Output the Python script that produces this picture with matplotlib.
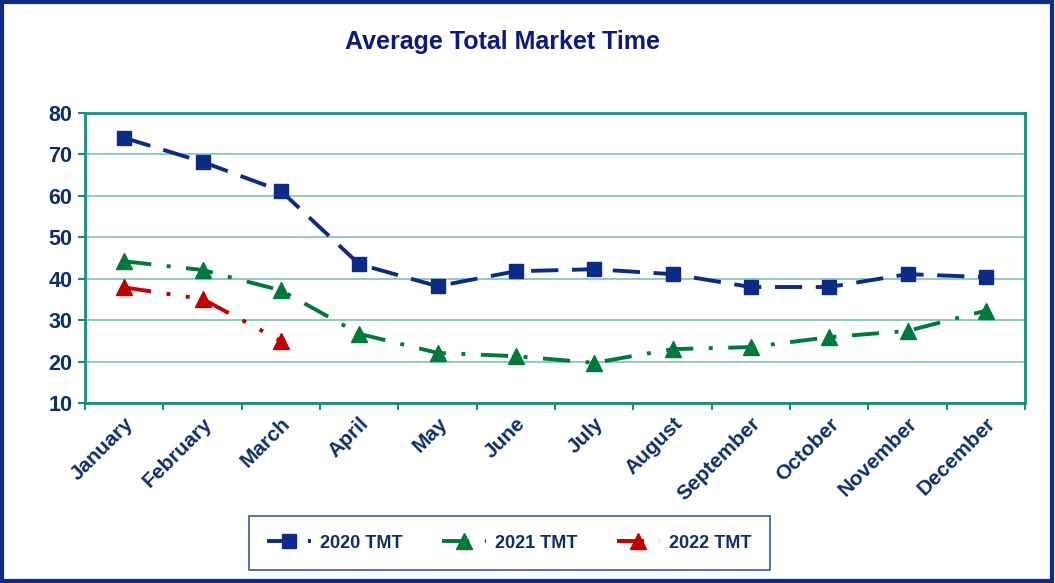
"""Average Total Market Time line chart."""

import matplotlib
matplotlib.use("Agg")
import matplotlib.pyplot as plt
from matplotlib.patches import Rectangle

# ---------------------------------------------------------------------------
# Data
# ---------------------------------------------------------------------------

MONTHS = ["January", "February", "March", "April", "May", "June", "July",
          "August", "September", "October", "November", "December"]

TMT_2020 = [74, 68.2, 61.2, 43.5, 38.2, 41.8, 42.3, 41.1, 38.0, 38.0, 41.1, 40.4]
TMT_2021 = [44.2, 42.1, 37.2, 26.7, 22.1, 21.3, 19.7, 23.0, 23.5, 25.9, 27.4, 32.3]
TMT_2022 = [37.9, 35.1, 25.0]

Y_TICKS = [10, 20, 30, 40, 50, 60, 70, 80]

NAVY   = "#0c2b87"
GREEN  = "#007a3a"
RED    = "#c00000"
TEXT   = "#0b2f6b"
TEAL   = "#1a8c7c"
GRID   = "#7fc3b3"

plt.rcParams["font.family"] = ["Liberation Sans", "DejaVu Sans"]

# ---------------------------------------------------------------------------
# Plot
# ---------------------------------------------------------------------------

fig = plt.figure(figsize=(10.55, 5.83), dpi=100)
fig.patch.set_facecolor("white")
ax = fig.add_axes([0.0806, 0.3087, 0.891, 0.4975])

x = list(range(len(MONTHS)))

ax.plot(x, TMT_2020, color=NAVY, linewidth=2.8, dashes=(7, 3.5),
        marker="s", markersize=9.5, label="2020 TMT", zorder=4)
ax.plot(x, TMT_2021, color=GREEN, linewidth=2.8, dashes=(7, 4, 1, 4),
        marker="^", markersize=12, label="2021 TMT", zorder=4)
ax.plot(x[:len(TMT_2022)], TMT_2022, color=RED, linewidth=2.8,
        dashes=(7, 4, 1, 4, 1, 4),
        marker="^", markersize=12, label="2022 TMT", zorder=5)

ax.set_xlim(-0.5, len(MONTHS) - 0.5)
ax.set_ylim(10, 80)
ax.set_yticks(Y_TICKS)
ax.set_yticklabels([str(v) for v in Y_TICKS], fontsize=15.5, fontweight="bold",
                   color=TEXT)

ax.set_xticks(x)
ax.set_xticklabels(MONTHS, rotation=45, ha="right", rotation_mode="anchor",
                   fontsize=15, fontweight="bold", color=TEXT)
ax.tick_params(axis="x", length=0, pad=8)
ax.set_xticks([i - 0.5 for i in range(len(MONTHS) + 1)], minor=True)
ax.tick_params(axis="x", which="minor", length=5, width=1.5, color=TEAL)
ax.tick_params(axis="y", length=5, width=1.5, color=TEAL, pad=4)

ax.grid(axis="y", color=GRID, linewidth=1.2)
ax.set_axisbelow(True)
for spine in ax.spines.values():
    spine.set_edgecolor(TEAL)
    spine.set_linewidth(2)

fig.text(0.476, 0.928, "Average Total Market Time", ha="center", va="center",
         fontsize=18, fontweight="bold", color="#0a1a80")

leg = fig.legend(loc="center", bbox_to_anchor=(0.483, 0.0686), ncol=3,
                 frameon=True, fancybox=False, handlelength=2.4,
                 columnspacing=2.2, borderpad=1.0, borderaxespad=0,
                 handletextpad=0.5, prop={"size": 13, "weight": "bold"})
leg.get_frame().set_edgecolor(NAVY)
leg.get_frame().set_linewidth(1.2)
for t in leg.get_texts():
    t.set_color(TEXT)

# outer border
fig.patches.append(Rectangle((0.002, 0.003), 0.995, 0.993,
                             transform=fig.transFigure, fill=False,
                             edgecolor=NAVY, linewidth=3))

fig.savefig("out.png", dpi=100, facecolor=fig.get_facecolor())
